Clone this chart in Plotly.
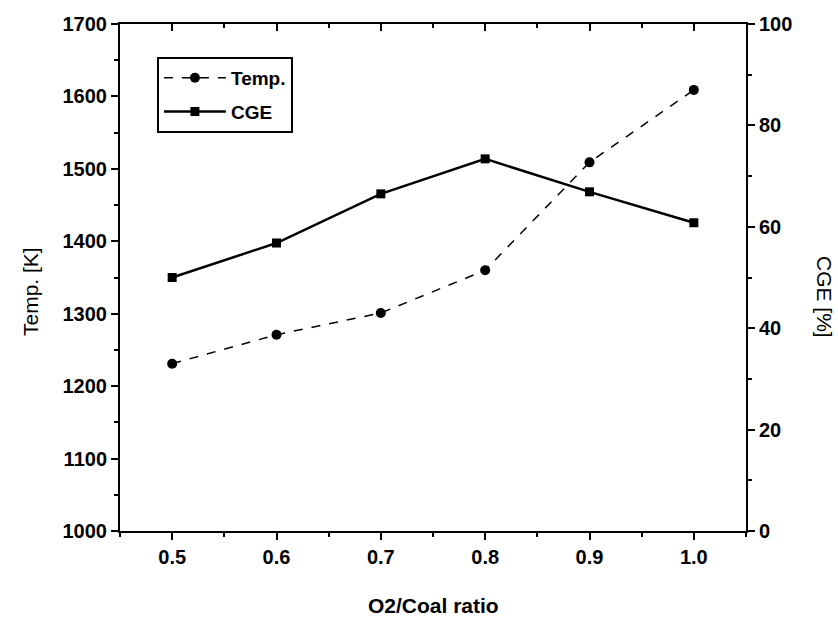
import plotly.graph_objects as go

ratio = [0.5, 0.6, 0.7, 0.8, 0.9, 1.0]
temp = [1231, 1271, 1301, 1360, 1509, 1609]
cge = [50.0, 56.8, 66.5, 73.4, 66.9, 60.8]

W, H = 838, 627
L, R, T, B = 120, 92, 24, 96
FONT = "Liberation Sans, Arial, sans-serif"

fig = go.Figure()
fig.add_trace(go.Scatter(
    x=ratio, y=temp, name="Temp.", mode="lines+markers", legendgroup="a",
    line=dict(color="black", width=1.5, dash="dash"),
    marker=dict(symbol="circle", size=10, color="black"),
    xaxis="x", yaxis="y"))
fig.add_trace(go.Scatter(
    x=ratio, y=cge, name="CGE", mode="lines+markers", legendgroup="b",
    line=dict(color="black", width=2.5),
    marker=dict(symbol="square", size=9, color="black"),
    xaxis="x", yaxis="y2"))

tickfont = dict(family=FONT, size=20, color="black", weight="bold")
common = dict(showgrid=False, zeroline=False, linecolor="black", linewidth=2,
              tickcolor="black", tickwidth=2, ticklen=7, tickfont=tickfont)

fig.update_layout(
    width=W, height=H,
    margin=dict(l=L, r=R, t=T, b=B),
    paper_bgcolor="white", plot_bgcolor="white",
    font=dict(family=FONT, color="black"),
    showlegend=True,
    legend=dict(x=0.059, y=0.935, xanchor="left", yanchor="top",
                bordercolor="black", borderwidth=2, bgcolor="white",
                font=dict(family=FONT, size=19, color="black", weight="bold"),
                itemwidth=62, tracegroupgap=6, traceorder="grouped"),
    xaxis=dict(range=[0.45, 1.05], tickmode="array", tickvals=ratio,
               ticktext=["0.5", "0.6", "0.7", "0.8", "0.9", "1.0"],
               ticks="outside", showline=True, mirror=False,
               minor=dict(ticks="outside", dtick=0.05, tick0=0.45, ticklen=4,
                          tickcolor="black", tickwidth=2),
               **common),
    xaxis2=dict(range=[0.45, 1.05], overlaying="x", side="top",
                tickmode="array", tickvals=ratio, ticks="inside",
                showticklabels=False, showline=True,
                minor=dict(ticks="inside", dtick=0.05, tick0=0.45, ticklen=4,
                           tickcolor="black", tickwidth=2),
                **common),
    yaxis=dict(range=[1000, 1700], dtick=100, ticks="outside", showline=True,
               minor=dict(ticks="outside", dtick=50, ticklen=4,
                          tickcolor="black", tickwidth=2),
               **common),
    yaxis2=dict(range=[0, 100], dtick=20, ticks="outside", side="right",
                overlaying="y", showline=True,
                minor=dict(ticks="outside", dtick=10, ticklen=4,
                           tickcolor="black", tickwidth=2),
                **common),
    annotations=[
        dict(text="O2/Coal ratio", xref="paper", yref="paper",
             x=0.5, y=-(605 - 531) / (H - T - B), xanchor="center", yanchor="middle",
             showarrow=False, font=dict(family=FONT, size=21, color="black", weight="bold")),
        dict(text="Temp. [K]", xref="paper", yref="paper",
             x=-(120 - 30) / (W - L - R), y=(531 - 292) / (H - T - B),
             xanchor="center", yanchor="middle", textangle=-90,
             showarrow=False, font=dict(family=FONT, size=21, color="black")),
        dict(text="CGE [%]", xref="paper", yref="paper",
             x=1 + (825 - 746) / (W - L - R), y=(531 - 297) / (H - T - B),
             xanchor="center", yanchor="middle", textangle=90,
             showarrow=False, font=dict(family=FONT, size=21, color="black")),
    ],
)
# invisible trace to activate the top axis
fig.add_trace(go.Scatter(x=[ratio[0]], y=[temp[0]], xaxis="x2", yaxis="y",
                         mode="markers", marker=dict(opacity=0), showlegend=False,
                         hoverinfo="skip"))

fig.write_html("out.html")
